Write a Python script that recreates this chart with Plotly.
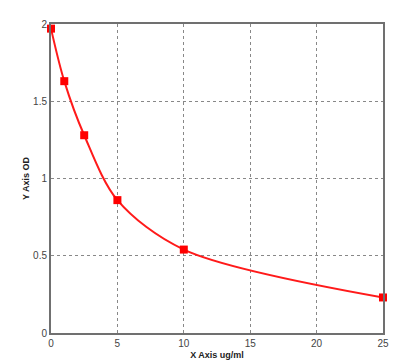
import plotly.graph_objects as go

conc = [0, 1, 2.5, 5, 10, 25]
od = [1.97, 1.63, 1.28, 0.86, 0.54, 0.23]
x_ticks = [0, 5, 10, 15, 20, 25]
y_ticks = [0, 0.5, 1, 1.5, 2]
y_tick_text = ["0", "0.5", "1", "1.5", "2"]

fig = go.Figure()
fig.add_trace(go.Scatter(
    x=conc, y=od, mode="lines+markers",
    line=dict(color="#ff1a1a", width=2, shape="spline", smoothing=0.9),
    marker=dict(symbol="square", size=8, color="#ff0000"),
    showlegend=False, cliponaxis=False,
))

axis_common = dict(
    showline=True, linecolor="#707070", linewidth=2, mirror=True,
    showgrid=True, gridcolor="#888888", griddash="dot", gridwidth=1,
    zeroline=False, ticks="", automargin=False,
    tickfont=dict(family="Arial", size=10, color="#444444"),
)
fig.update_xaxes(range=[0, 25], tickvals=x_ticks, **axis_common,
                 title=dict(text="<b>X Axis ug/ml</b>", font=dict(family="Arial", size=9, color="#222222"), standoff=4))
fig.update_yaxes(range=[0, 2], tickvals=y_ticks, ticktext=y_tick_text, **axis_common,
                 title=dict(text="<b>Y Axis OD</b>", font=dict(family="Arial", size=9, color="#222222"), standoff=2))

fig.update_layout(
    width=410, height=363,
    margin=dict(l=51, r=27, t=24, b=30),
    plot_bgcolor="white", paper_bgcolor="white",
)
fig.write_html("out.html")
